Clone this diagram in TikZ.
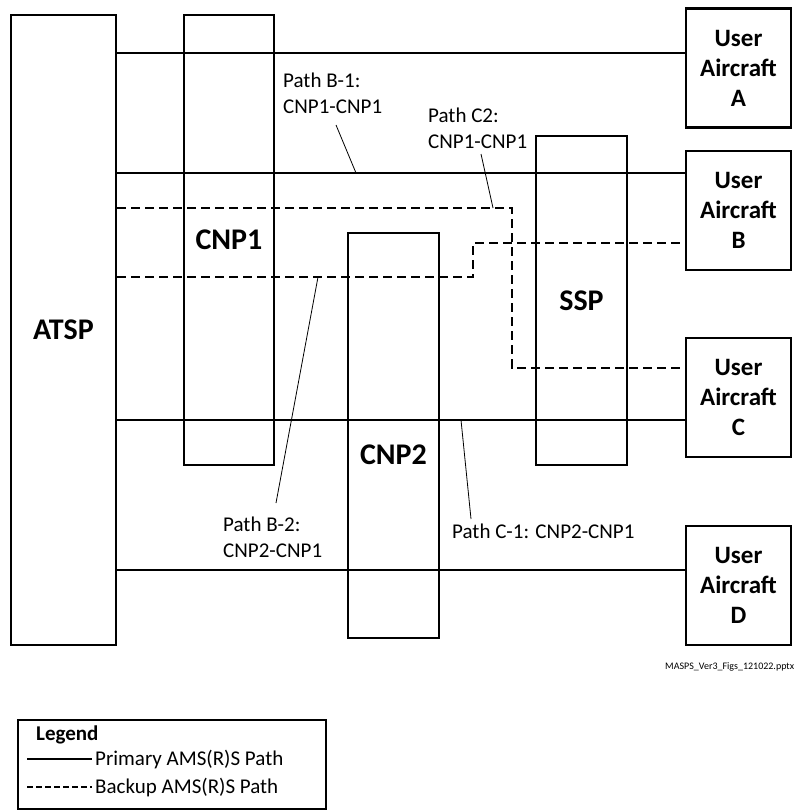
\documentclass[tikz,border=0pt]{standalone}
\usepackage{fontspec}
\setmainfont{Carlito}
\begin{document}
\begin{tikzpicture}[x=1pt,y=-1pt,
  box/.style={draw,line width=2.4pt,inner sep=0pt,font=\fontsize{30}{34}\selectfont\bfseries},
  ua/.style={draw,line width=2.4pt,minimum width=105pt,minimum height=119pt,inner sep=0pt,align=center,font=\fontsize{25}{30}\selectfont\bfseries},
  prim/.style={line width=2pt},
  back/.style={line width=2pt,dash pattern=on 9pt off 5pt},
  lead/.style={line width=0.8pt},
  lbl/.style={anchor=base west,inner sep=0pt,font=\fontsize{21}{27}\selectfont}]
\useasboundingbox (0,0) rectangle (799,810);

% boxes
\node[box,minimum width=105pt,minimum height=630pt] (ATSP) at (63.5,330) {ATSP};
\node[box,minimum width=90pt,minimum height=450pt] (CNP1) at (229,240) {CNP1};
\node[box,minimum width=91pt,minimum height=405pt] (CNP2) at (393.5,435.5) {};
\node[box,minimum width=91pt,minimum height=329pt] (SSP) at (581.5,300.5) {SSP};
\node[box,anchor=base,draw=none] (CNP2l) at (393.5,464) {CNP2};

\node[ua] (A) at (738.5,68) {User\\Aircraft\\A};
\node[ua] (B) at (738.5,210.5) {User\\Aircraft\\B};
\node[ua] (C) at (738.5,397.5) {User\\Aircraft\\C};
\node[ua] (D) at (738.5,585.5) {User\\Aircraft\\D};

% primary paths
\coordinate (yA) at (0,53);
\coordinate (yB) at (0,173);
\coordinate (yC) at (0,420);
\coordinate (yD) at (0,570);
\draw[prim] (ATSP.east |- yA) -- (A.west |- yA);
\draw[prim] (ATSP.east |- yB) -- (B.west |- yB);
\draw[prim] (ATSP.east |- yC) -- (C.west |- yC);
\draw[prim] (ATSP.east |- yD) -- (D.west |- yD);

% backup paths
\coordinate (c1) at (512,208);
\coordinate (c2) at (512,368);
\coordinate (b1) at (473,277);
\coordinate (b2) at (473,243);
\draw[back] (ATSP.east |- c1) -- (c1) -- (c2) -- (C.west |- c2);
\draw[back] (ATSP.east |- b1) -- (b1) -- (b2) -- (B.west |- b2);

% labels
\node[lbl] (pb1a) at (283,88) {Path B-1:};
\node[lbl] (pb1b) at (283,114) {CNP1-CNP1};
\node[lbl] (pc2a) at (428,123) {Path C2:};
\node[lbl] (pc2b) at (428,149) {CNP1-CNP1};
\node[lbl] (pb2a) at (223,531) {Path B-2:};
\node[lbl] (pb2b) at (223,557) {CNP2-CNP1};
\node[lbl] (pc1) at (452,538) {Path C-1: CNP2-CNP1};

% leaders
\coordinate (l1s) at (336,125); \coordinate (l1e) at (356,173);
\coordinate (l2s) at (481,154); \coordinate (l2e) at (493,208);
\coordinate (l3s) at (276,503); \coordinate (l3e) at (318,277);
\coordinate (l4s) at (471,519); \coordinate (l4e) at (461,420);
\draw[lead] (l1s) -- (l1e);
\draw[lead] (l2s) -- (l2e);
\draw[lead] (l3s) -- (l3e);
\draw[lead] (l4s) -- (l4e);

% source note
\node[anchor=base west,inner sep=0pt,font=\fontsize{10}{12}\selectfont] (src) at (665,669) {MASPS\_Ver3\_Figs\_121022.pptx};

% legend
\node[draw,line width=1.6pt,minimum width=308pt,minimum height=89pt,inner sep=0pt] (leg) at (172,764.5) {};
\node[lbl,font=\fontsize{21}{27}\selectfont\bfseries] (legt) at (36,740) {Legend};
\coordinate (lp1) at (27,759); \coordinate (lp2) at (92,759);
\coordinate (lb1) at (27,787); \coordinate (lb2) at (92,787);
\draw[prim] (lp1) -- (lp2);
\draw[line width=2pt,dash pattern=on 6pt off 3pt] (lb1) -- (lb2);
\node[lbl] (legp) at (95,765) {Primary AMS(R)S Path};
\node[lbl] (legb) at (95,793) {Backup AMS(R)S Path};
\end{tikzpicture}
\end{document}
